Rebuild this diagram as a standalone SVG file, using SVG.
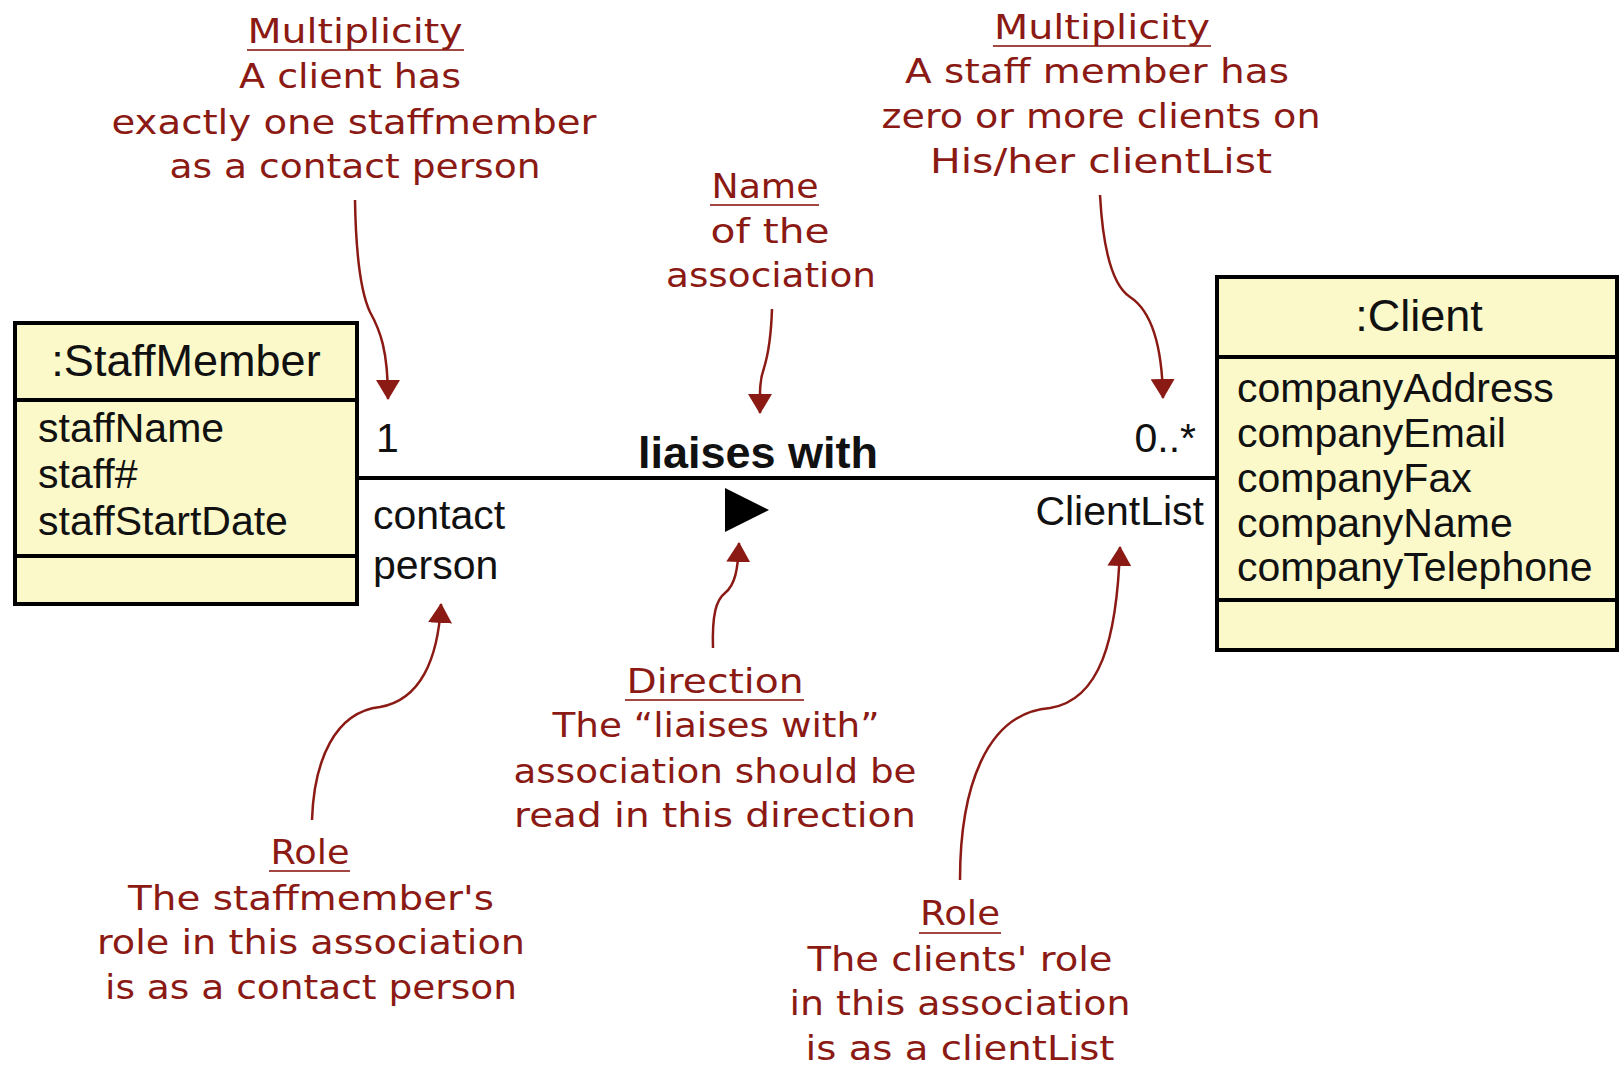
<svg xmlns="http://www.w3.org/2000/svg" width="1621" height="1066" viewBox="0 0 1621 1066">
<style>
.box{fill:#fbf9c9;stroke:#000;stroke-width:4}
.div{stroke:#000;stroke-width:4}
.title{font-family:"Liberation Sans",Arial,sans-serif;font-size:45px;fill:#111;text-anchor:middle}
.attr{font-family:"Liberation Sans",Arial,sans-serif;font-size:41px;fill:#111}
.assoc{font-family:"Liberation Sans",Arial,sans-serif;font-size:41px;fill:#111}
.aname{font-family:"Liberation Sans",Arial,sans-serif;font-size:45px;font-weight:bold;fill:#111;text-anchor:middle}
.note{font-family:"DejaVu Sans","Liberation Sans",sans-serif;font-size:33px;fill:#8b1a14;text-anchor:middle}
.ul{stroke:#8b1a14;stroke-width:2;opacity:0.8}
.arr{fill:none;stroke:#8b1a14;stroke-width:2.5}
</style>
<defs>
<marker id="head" viewBox="0 0 20 24" markerWidth="20" markerHeight="24" refX="19" refY="12" markerUnits="userSpaceOnUse" orient="auto">
<path d="M0,0 L20,12 L0,24 Z" fill="#8b1a14"/>
</marker>
</defs>
<rect width="1621" height="1066" fill="#fff"/>

<g id="staffMember">
<rect class="box" x="15" y="323" width="342" height="281"/>
<line class="div" x1="15" y1="400" x2="357" y2="400"/>
<line class="div" x1="15" y1="556" x2="357" y2="556"/>
<text class="title" x="186" y="376">:StaffMember</text>
<text class="attr" x="38" y="442">staffName</text>
<text class="attr" x="38" y="488">staff#</text>
<text class="attr" x="38" y="535">staffStartDate</text>
</g>

<g id="client">
<rect class="box" x="1217" y="277" width="400" height="373"/>
<line class="div" x1="1217" y1="357" x2="1617" y2="357"/>
<line class="div" x1="1217" y1="600" x2="1617" y2="600"/>
<text class="title" x="1419" y="331">:Client</text>
<text class="attr" x="1237" y="402">companyAddress</text>
<text class="attr" x="1237" y="447">companyEmail</text>
<text class="attr" x="1237" y="492">companyFax</text>
<text class="attr" x="1237" y="537">companyName</text>
<text class="attr" x="1237" y="581">companyTelephone</text>
</g>

<g id="association">
<text class="aname" x="758" y="468">liaises with</text>
<path d="M725,488 L769,510 L725,532 Z" fill="#000"/>
<text class="assoc" x="376" y="452">1</text>
<text class="assoc" x="373" y="529">contact</text>
<text class="assoc" x="373" y="579">person</text>
<text class="assoc" x="1196" y="452" text-anchor="end">0..*</text>
<text class="assoc" x="1204" y="525" text-anchor="end">ClientList</text>
</g>

<g id="note-multiplicity-left">
<text class="note" x="355" y="43" textLength="215" lengthAdjust="spacingAndGlyphs">Multiplicity</text>
<line class="ul" x1="247" y1="50" x2="464" y2="50"/>
<text class="note" x="350" y="88" textLength="222" lengthAdjust="spacingAndGlyphs">A client has</text>
<text class="note" x="354" y="134" textLength="485" lengthAdjust="spacingAndGlyphs">exactly one staffmember</text>
<text class="note" x="355" y="178" textLength="371" lengthAdjust="spacingAndGlyphs">as a contact person</text>
</g>

<g id="note-name">
<text class="note" x="765" y="198" textLength="107" lengthAdjust="spacingAndGlyphs">Name</text>
<line class="ul" x1="710" y1="205" x2="819" y2="205"/>
<text class="note" x="770" y="243" textLength="119" lengthAdjust="spacingAndGlyphs">of the</text>
<text class="note" x="771" y="287" textLength="210" lengthAdjust="spacingAndGlyphs">association</text>
</g>

<g id="note-multiplicity-right">
<text class="note" x="1102" y="39" textLength="216" lengthAdjust="spacingAndGlyphs">Multiplicity</text>
<line class="ul" x1="993" y1="46" x2="1211" y2="46"/>
<text class="note" x="1097" y="83" textLength="384" lengthAdjust="spacingAndGlyphs">A staff member has</text>
<text class="note" x="1101" y="128" textLength="439" lengthAdjust="spacingAndGlyphs">zero or more clients on</text>
<text class="note" x="1101" y="173" textLength="342" lengthAdjust="spacingAndGlyphs">His/her clientList</text>
</g>

<g id="note-direction">
<text class="note" x="715" y="693" textLength="177" lengthAdjust="spacingAndGlyphs">Direction</text>
<line class="ul" x1="625" y1="700" x2="804" y2="700"/>
<text class="note" x="716" y="737" textLength="327" lengthAdjust="spacingAndGlyphs">The “liaises with”</text>
<text class="note" x="715" y="783" textLength="403" lengthAdjust="spacingAndGlyphs">association should be</text>
<text class="note" x="715" y="827" textLength="402" lengthAdjust="spacingAndGlyphs">read in this direction</text>
</g>

<g id="note-role-left">
<text class="note" x="310" y="864" textLength="79" lengthAdjust="spacingAndGlyphs">Role</text>
<line class="ul" x1="269" y1="871" x2="350" y2="871"/>
<text class="note" x="311" y="910" textLength="366" lengthAdjust="spacingAndGlyphs">The staffmember's</text>
<text class="note" x="311" y="954" textLength="428" lengthAdjust="spacingAndGlyphs">role in this association</text>
<text class="note" x="311" y="999" textLength="412" lengthAdjust="spacingAndGlyphs">is as a contact person</text>
</g>

<g id="note-role-right">
<text class="note" x="960" y="925" textLength="80" lengthAdjust="spacingAndGlyphs">Role</text>
<line class="ul" x1="919" y1="933" x2="1001" y2="933"/>
<text class="note" x="960" y="971" textLength="305" lengthAdjust="spacingAndGlyphs">The clients' role</text>
<text class="note" x="960" y="1015" textLength="341" lengthAdjust="spacingAndGlyphs">in this association</text>
<text class="note" x="960" y="1060" textLength="309" lengthAdjust="spacingAndGlyphs">is as a clientList</text>
</g>

<g id="connectors">
<line x1="357" y1="478" x2="1217" y2="478" stroke="#000" stroke-width="4"/>
<path class="arr" marker-end="url(#head)" d="M355,200 C356,260 362,295 370,312 C380,330 388,350 388,399"/>
<path class="arr" marker-end="url(#head)" d="M772,309 C771,340 768,355 764,368 C759,382 760,395 760,413"/>
<path class="arr" marker-end="url(#head)" d="M1100,195 C1103,250 1112,285 1130,297 C1150,310 1162,340 1163,398"/>
<path class="arr" marker-end="url(#head)" d="M713,648 C712,615 716,600 725,593 C735,585 738,570 739,543"/>
<path class="arr" marker-end="url(#head)" d="M312,820 C314,760 335,712 380,707 C420,700 438,660 441,604"/>
<path class="arr" marker-end="url(#head)" d="M960,880 C960,790 985,713 1050,708 C1100,700 1117,640 1120,547"/>
</g>
</svg>
